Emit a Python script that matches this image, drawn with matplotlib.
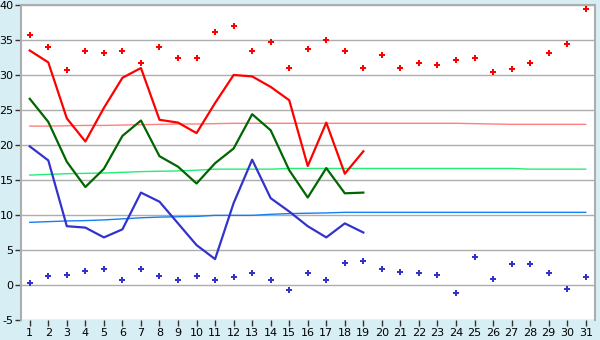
import matplotlib
matplotlib.use("Agg")
import matplotlib.pyplot as plt

plt.rcParams["axes.unicode_minus"] = False

days = list(range(1, 32))

# record highs / lows (diamonds)
rec_max = [35.7, 34.0, 30.7, 33.5, 33.2, 33.4, 31.7, 34.0, 32.5, 32.5,
           36.1, 37.0, 33.4, 34.7, 31.0, 33.7, 35.0, 33.4, 31.0, 32.8,
           31.0, 31.7, 31.5, 32.1, 32.5, 30.4, 30.8, 31.7, 33.2, 34.4, 39.4]
rec_min = [0.24, 1.24, 1.38, 1.95, 2.24, 0.67, 2.24, 1.24, 0.67, 1.24,
           0.67, 1.1, 1.67, 0.67, -0.76, 1.67, 0.67, 3.1, 3.38, 2.24,
           1.81, 1.67, 1.38, -1.19, 3.95, 0.81, 2.95, 2.95, 1.67, -0.62, 1.1]

# observed values, days 1-19
obs_days = list(range(1, 20))
obs_max = [33.5, 31.8, 23.8, 20.5, 25.3, 29.6, 31.0, 23.6, 23.2, 21.7,
           26.0, 30.0, 29.8, 28.3, 26.4, 17.0, 23.2, 15.9, 19.1]
obs_mean = [26.6, 23.3, 17.6, 14.0, 16.6, 21.3, 23.5, 18.4, 16.9, 14.5,
            17.4, 19.5, 24.4, 22.1, 16.4, 12.5, 16.7, 13.1, 13.2]
obs_min = [19.8, 17.8, 8.4, 8.2, 6.8, 7.95, 13.2, 11.9, 8.8, 5.7,
           3.7, 11.7, 17.9, 12.4, 10.5, 8.4, 6.8, 8.8, 7.5]

# normals
norm_max = [22.7, 22.7, 22.75, 22.8, 22.8, 22.85, 22.9, 22.95, 23.0, 23.0,
            23.05, 23.1, 23.1, 23.1, 23.1, 23.1, 23.1, 23.1, 23.1, 23.1,
            23.1, 23.1, 23.1, 23.1, 23.05, 23.0, 22.95, 22.95, 22.95, 22.95, 22.95]
norm_mean = [15.7, 15.8, 15.9, 15.95, 16.0, 16.1, 16.2, 16.25, 16.3, 16.4,
             16.55, 16.55, 16.55, 16.55, 16.65, 16.65, 16.65, 16.65, 16.65, 16.65,
             16.65, 16.65, 16.65, 16.65, 16.65, 16.65, 16.65, 16.55, 16.55, 16.55, 16.55]
norm_min = [8.95, 9.05, 9.15, 9.2, 9.3, 9.45, 9.6, 9.7, 9.75, 9.8,
            9.95, 9.95, 9.95, 10.1, 10.2, 10.25, 10.3, 10.38, 10.38, 10.38,
            10.38, 10.38, 10.38, 10.38, 10.38, 10.38, 10.38, 10.38, 10.38, 10.38, 10.38]

bg = "#D8EEF5"
grid = "#ADADAD"

fig = plt.figure(figsize=(6, 3.4), dpi=100, facecolor=bg)
ax = fig.add_axes([20.5 / 600, 20 / 340, 574.5 / 600, 315 / 340])
ax.set_facecolor("white")

for y in range(-5, 41, 5):
    ax.axhline(y, color=grid, lw=1.0, zorder=1)

ax.plot(days, norm_max, color="#FF8080", lw=1.0, zorder=2)
ax.plot(days, norm_mean, color="#22EE77", lw=1.0, zorder=2)
ax.plot(days, norm_min, color="#1480F0", lw=1.0, zorder=2)

ax.plot(obs_days, obs_max, color="#FF0000", lw=1.6, zorder=3)
ax.plot(obs_days, obs_mean, color="#006600", lw=1.6, zorder=3)
ax.plot(obs_days, obs_min, color="#3333CC", lw=1.6, zorder=3)

ax.plot(days, rec_max, ls="none", marker="P", ms=5, color="#FF0000",
        mew=0, zorder=4)
ax.plot(days, rec_min, ls="none", marker="P", ms=5, color="#3333CC",
        mew=0, zorder=4)

ax.set_xlim(0.5, 31.5)
ax.set_ylim(-5, 40)
ax.set_xticks(days)
ax.set_yticks(range(-5, 41, 5))
ax.tick_params(axis="both", colors="black", labelsize=8, length=4,
               width=1, pad=1)
ax.tick_params(axis="x", color="#333333", pad=2)
ax.tick_params(axis="y", color="#333333")

for side in ["left", "right", "top"]:
    ax.spines[side].set_color(grid)
    ax.spines[side].set_linewidth(1.5)
ax.spines["bottom"].set_visible(False)

fig.savefig("out.png", dpi=100, facecolor=bg)
